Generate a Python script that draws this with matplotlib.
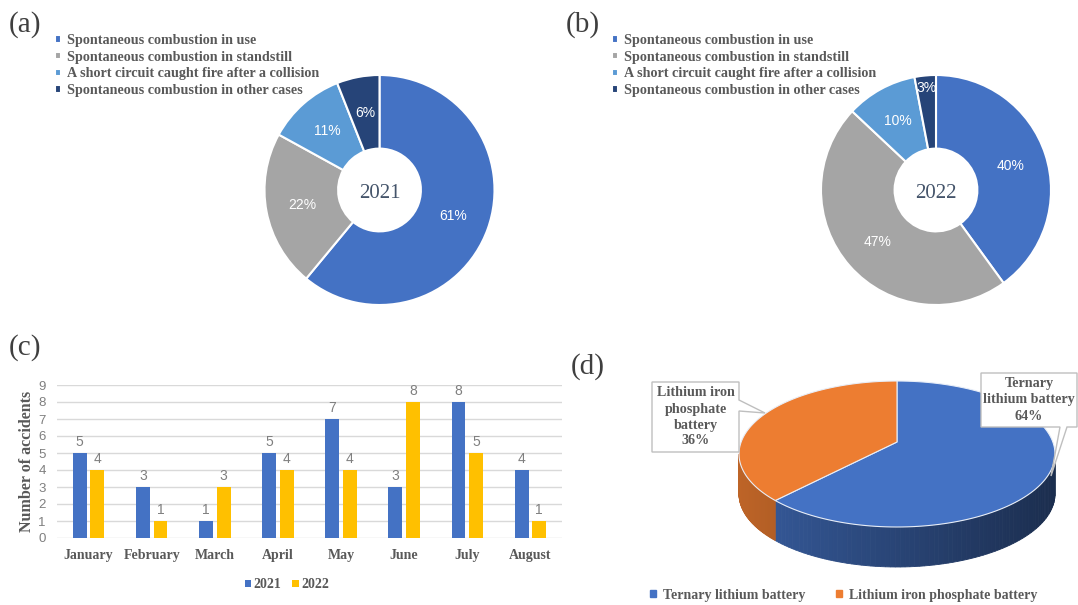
import numpy as np
import matplotlib.pyplot as plt
from matplotlib.patches import Polygon, Patch

W, H = 1078, 605
SERIF = 'Liberation Serif'
SANS = 'Liberation Sans'
TXT = '#595959'

# data
cause_labels = ['Spontaneous combustion in use',
                'Spontaneous combustion in standstill',
                'A short circuit caught fire after a collision',
                'Spontaneous combustion in other cases']
cause_colors = ['#4472C4', '#A5A5A5', '#5B9BD5', '#264478']
share_2021 = [61, 22, 11, 6]
share_2022 = [40, 47, 10, 3]

months = ['January', 'February', 'March', 'April', 'May', 'June', 'July', 'August']
acc_2021 = [5, 3, 1, 5, 7, 3, 8, 4]
acc_2022 = [4, 1, 3, 4, 4, 8, 5, 1]

battery_types = ['Ternary lithium battery', 'Lithium iron phosphate battery']
battery_box_text = ['Ternary\nlithium battery', 'Lithium iron\nphosphate\nbattery']
battery_share = [64, 36]
battery_colors = ['#4472C4', '#ED7D31']

fig = plt.figure(figsize=(W / 100, H / 100), dpi=100)


def px_axes(x0, y0, x1, y1):
    # axes placed by pixel box (top-left origin)
    return fig.add_axes([x0 / W, 1 - y1 / H, (x1 - x0) / W, (y1 - y0) / H])


def donut(cx, cy, r, shares, year, legend_x):
    ax = px_axes(cx - r, cy - r, cx + r, cy + r)
    wedges, _, pct = ax.pie(shares, colors=cause_colors, startangle=90, counterclock=False,
                            autopct='%.0f%%', pctdistance=0.68,
                            wedgeprops=dict(width=0.64, edgecolor='white', linewidth=1.5),
                            textprops=dict(color='white', fontsize=10, family=SANS))
    ax.set_xlim(-1, 1)
    ax.set_ylim(-1, 1)
    ax.text(0, -0.03, year, ha='center', va='center', fontsize=15,
            family=SERIF, color='#44546A')
    ax.legend(wedges, cause_labels, loc='upper left',
              bbox_to_anchor=(legend_x / W, 1 - 34 / H), bbox_transform=fig.transFigure,
              frameon=False, borderpad=0, borderaxespad=0, handlelength=0.4,
              handleheight=0.4, handletextpad=0.45, labelspacing=0.26,
              labelcolor=TXT, prop=dict(family=SERIF, weight='bold', size=10.2))
    return ax, pct


# (a) and (b) donuts
donut(379.5, 190, 115, share_2021, '2021', 55)
ax_b, pct_b = donut(936, 190, 115, share_2022, '2022', 612)
# small slice label sits further out
x, y = pct_b[3].get_position()
pct_b[3].set_position((x * 0.89 / 0.68, y * 0.89 / 0.68))

# (c) monthly bars
ax_c = px_axes(57, 385, 562, 538)
xi = np.arange(len(months))
b1 = ax_c.bar(xi - 0.14, acc_2021, 0.22, color='#4472C4', label='2021')
b2 = ax_c.bar(xi + 0.14, acc_2022, 0.22, color='#FFC000', label='2022')
for bars in (b1, b2):
    ax_c.bar_label(bars, padding=3, fontsize=10, color='#7F7F7F', family=SANS)
ax_c.set_xlim(-0.5, len(months) - 0.5)
ax_c.set_ylim(0, 9)
ax_c.set_yticks(range(10))
ax_c.set_axisbelow(True)
ax_c.yaxis.grid(True, color='#D9D9D9', linewidth=1)
for s in ax_c.spines.values():
    s.set_visible(False)
ax_c.tick_params(length=0)
ax_c.tick_params(axis='y', pad=8, labelsize=9.5, labelcolor='#7F7F7F')
ax_c.tick_params(axis='x', pad=8)
ax_c.set_xticks(xi)
ax_c.set_xticklabels(months, family=SERIF, weight='bold', size=10, color=TXT)
for t in ax_c.get_yticklabels():
    t.set_family(SANS)
ax_c.set_ylabel('Number of accidents', family=SERIF, weight='bold', size=11.5, color=TXT)
ax_c.yaxis.set_label_coords(-0.043, 0.5)
ax_c.legend(loc='center', bbox_to_anchor=(287 / W, 1 - 585 / H), bbox_transform=fig.transFigure,
            ncol=2, frameon=False, handlelength=0.45, handleheight=0.45, handletextpad=0.2,
            columnspacing=0.8, borderpad=0, labelcolor=TXT,
            prop=dict(family=SERIF, weight='bold', size=10))

# (d) 3D-looking pie
cx, cy, a, b, depth, lift = 897, 454, 158, 73, 40, 12
ax_d = px_axes(cx - a - 2, cy - b - 2, cx + a + 2, cy + b + depth + 2)
ax_d.set_xlim(-a - 2, a + 2)
ax_d.set_ylim(-(b + depth + 2), b + 2)
ax_d.axis('off')

fr = np.array(battery_share) / sum(battery_share)
ends = 90 - np.cumsum(fr) * 360
starts = np.concatenate([[90], ends[:-1]])


def rim(t0, t1, n=120):
    t = np.radians(np.linspace(t0, t1, n))
    return a * np.cos(t), b * np.sin(t)


# side walls, front half only (angles -180..0)
for i, col in enumerate(battery_colors):
    lo, hi = max(ends[i], -180), min(starts[i], 0)
    if lo >= hi:
        continue
    base = np.array(plt.matplotlib.colors.to_rgb(col))
    xs, ys = rim(lo, hi, 80)
    for k in range(len(xs) - 1):
        f = 0.6 - 0.2 * ((xs[k] + xs[k + 1]) / 2 / a)
        quad = [(xs[k], ys[k]), (xs[k + 1], ys[k + 1]),
                (xs[k + 1], ys[k + 1] - depth), (xs[k], ys[k] - depth)]
        ax_d.add_patch(Polygon(quad, closed=True, facecolor=base * f,
                               edgecolor=base * f, linewidth=0.6))

# top face
for i, col in enumerate(battery_colors):
    xs, ys = rim(starts[i], ends[i])
    pts = np.column_stack([np.r_[0, xs], np.r_[lift, ys]])
    ax_d.add_patch(Polygon(pts, closed=True, facecolor=col, edgecolor='#E8EEF8',
                           linewidth=0.8, zorder=3))

# overlay for text and callouts (pixel coords)
ax_bg = fig.add_axes([0, 0, 1, 1])
ax_bg.set_xlim(0, W)
ax_bg.set_ylim(H, 0)
ax_bg.axis('off')
ax_bg.patch.set_alpha(0)

for lbl, (px, py) in zip(['(a)', '(b)', '(c)', '(d)'],
                         [(9, 25), (566, 25), (9, 348), (571, 367)]):
    ax_bg.text(px, py, lbl, fontsize=21, family=SERIF, color='#3F3F3F', va='center')

callouts = [
    [(981, 373), (1077, 373), (1077, 427), (1067, 427), (1051, 476), (1060, 427), (981, 427)],
    [(652, 382), (739, 382), (739, 400), (765, 413), (739, 411), (739, 452), (652, 452)],
]
centers = [(1029, 400), (695.5, 417)]
for i in range(2):
    ax_bg.add_patch(Polygon(callouts[i], closed=True, facecolor='white',
                            edgecolor='#BFBFBF', linewidth=1))
    ax_bg.text(*centers[i], f'{battery_box_text[i]}\n{battery_share[i]}%', ha='center',
               va='center', family=SERIF, weight='bold', size=10.2, color=TXT,
               linespacing=1.3)

handles = [Patch(color=c) for c in battery_colors]
ax_bg.legend(handles, battery_types, loc='center', bbox_to_anchor=(843.5 / W, 1 - 595 / H),
             bbox_transform=fig.transFigure, ncol=2, frameon=False, handlelength=0.45,
             handleheight=0.45, handletextpad=0.5, columnspacing=2.2, borderpad=0,
             labelcolor=TXT, prop=dict(family=SERIF, weight='bold', size=10))

fig.savefig('out.png', dpi=100, facecolor='white')
